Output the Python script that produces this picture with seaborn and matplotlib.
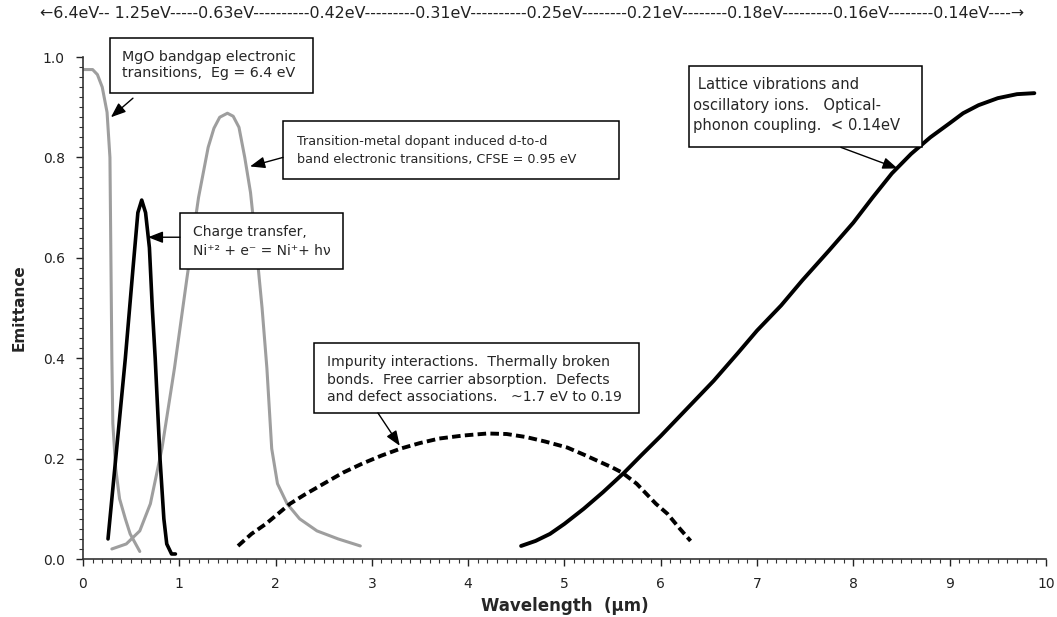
import numpy as np
import pandas as pd
import matplotlib
matplotlib.use('Agg')
import matplotlib.pyplot as plt
from matplotlib.ticker import MultipleLocator, FuncFormatter
from matplotlib.patches import Rectangle
import seaborn as sns

# -----------------------------------------------------------------------------
# Data (wavelength in um, emittance 0-1)
# -----------------------------------------------------------------------------
mgo_x = [0.0, 0.1, 0.15, 0.2, 0.25, 0.28, 0.29, 0.30, 0.31, 0.34, 0.38, 0.44, 0.49, 0.59]
mgo_y = [0.975, 0.975, 0.965, 0.94, 0.89, 0.80, 0.60, 0.40, 0.27, 0.18, 0.12, 0.08, 0.05, 0.015]

ct_x = [0.26, 0.35, 0.44, 0.52, 0.57, 0.61, 0.65, 0.69, 0.72, 0.75, 0.80, 0.84, 0.87, 0.92, 0.96]
ct_y = [0.04, 0.22, 0.40, 0.58, 0.69, 0.715, 0.69, 0.62, 0.50, 0.40, 0.20, 0.08, 0.03, 0.01, 0.01]

dd_x = [0.30, 0.45, 0.59, 0.70, 0.82, 0.95, 1.08, 1.20, 1.30, 1.36, 1.42, 1.50, 1.56, 1.62, 1.68, 1.74,
        1.80, 1.86, 1.91, 1.96, 2.02, 2.12, 2.25, 2.43, 2.65, 2.88]
dd_y = [0.02, 0.03, 0.056, 0.11, 0.22, 0.38, 0.56, 0.72, 0.82, 0.858, 0.88, 0.888, 0.882, 0.86, 0.80, 0.73,
        0.62, 0.50, 0.38, 0.22, 0.15, 0.11, 0.08, 0.056, 0.04, 0.026]

imp_x = [1.61, 1.75, 1.90, 2.15, 2.30, 2.50, 2.70, 2.90, 3.10, 3.30, 3.50, 3.70, 3.95, 4.20,
         4.40, 4.60, 4.80, 5.03, 5.20, 5.35, 5.50, 5.60, 5.75, 5.85, 5.95, 6.07, 6.20, 6.31]
imp_y = [0.026, 0.05, 0.07, 0.11, 0.128, 0.15, 0.172, 0.19, 0.206, 0.22, 0.231, 0.24, 0.246, 0.25,
         0.249, 0.243, 0.234, 0.222, 0.208, 0.195, 0.182, 0.172, 0.15, 0.13, 0.11, 0.09, 0.06, 0.036]

lat_x = [4.55, 4.70, 4.85, 5.00, 5.20, 5.40, 5.62, 5.80, 6.00, 6.25, 6.55, 6.80, 7.00, 7.25,
         7.47, 7.75, 8.00, 8.20, 8.40, 8.60, 8.80, 9.00, 9.14, 9.30, 9.50, 9.70, 9.88]
lat_y = [0.026, 0.036, 0.05, 0.07, 0.10, 0.133, 0.172, 0.207, 0.245, 0.295, 0.355, 0.41, 0.455, 0.505,
         0.555, 0.615, 0.67, 0.72, 0.768, 0.807, 0.84, 0.868, 0.888, 0.904, 0.918, 0.926, 0.928]

ev_scale = ("\u21906.4eV-- 1.25eV-----0.63eV----------0.42eV---------0.31eV----------0.25eV"
            "--------0.21eV--------0.18eV---------0.16eV--------0.14eV----\u2192")

# annotation texts
txt_mgo = 'MgO bandgap electronic\ntransitions,  Eg = 6.4 eV'
txt_dd = 'Transition-metal dopant induced d-to-d\nband electronic transitions, CFSE = 0.95 eV'
txt_ct = 'Charge transfer,\nNi\u207a\u00b2 + e\u207b = Ni\u207a+ h\u03bd'
txt_imp = ('Impurity interactions.  Thermally broken\nbonds.  Free carrier absorption.  Defects\n'
           'and defect associations.   ~1.7 eV to 0.19')
txt_lat = ' Lattice vibrations and\noscillatory ions.   Optical-\nphonon coupling.  < 0.14eV'

# -----------------------------------------------------------------------------
# Figure
# -----------------------------------------------------------------------------
sns.set_style('ticks')
plt.rcParams['font.family'] = ['DejaVu Sans']

fig = plt.figure(figsize=(10.57, 6.17), dpi=100)
ax = fig.add_axes([0.0785, 0.094, 0.911, 0.8136])

gray = '#9e9e9e'
sns.lineplot(x=mgo_x, y=mgo_y, ax=ax, color=gray, lw=2.2, sort=False, estimator=None)
sns.lineplot(x=dd_x, y=dd_y, ax=ax, color=gray, lw=2.2, sort=False, estimator=None)
sns.lineplot(x=ct_x, y=ct_y, ax=ax, color='black', lw=2.6, sort=False, estimator=None)
sns.lineplot(x=imp_x, y=imp_y, ax=ax, color='black', lw=2.8, sort=False, estimator=None,
             linestyle=(0, (2.2, 1.1)))
sns.lineplot(x=lat_x, y=lat_y, ax=ax, color='black', lw=2.8, sort=False, estimator=None)

ax.set_xlim(0, 10)
ax.set_ylim(0, 1.0)
ax.xaxis.set_major_locator(MultipleLocator(1))
ax.xaxis.set_minor_locator(MultipleLocator(0.1))
ax.yaxis.set_major_locator(MultipleLocator(0.2))
ax.yaxis.set_minor_locator(MultipleLocator(0.02))
ax.xaxis.set_major_formatter(FuncFormatter(lambda v, p: f'{v:.0f}'))
ax.yaxis.set_major_formatter(FuncFormatter(lambda v, p: f'{v:.1f}'))
ax.tick_params(which='major', length=5, width=1, labelsize=10, colors='#222222', pad=8)
ax.tick_params(which='minor', length=3, width=0.8, colors='#333333')
sns.despine(ax=ax)
for s in ['left', 'bottom']:
    ax.spines[s].set_color('#333333')
    ax.spines[s].set_linewidth(1.2)

ax.set_xlabel('Wavelength  (\u03bcm)', fontsize=12, fontweight='bold', labelpad=4)
ax.set_ylabel('Emittance', fontsize=11, fontweight='bold', labelpad=12)

fig.text(0.5035, 0.978, ev_scale, ha='center', va='center', fontsize=11.4,
         family=['Liberation Sans Narrow', 'DejaVu Sans'], color='#222222')


def note(txt, box, text_xy, start, tip, size, spacing):
    # box = (x0, y0, x1, y1) in data units
    x0, y0, x1, y1 = box
    ax.add_patch(Rectangle((x0, y0), x1 - x0, y1 - y0, fc='white', ec='black',
                           lw=1.1, clip_on=False, zorder=4))
    ax.text(text_xy[0], text_xy[1], txt, ha='left', va='center', fontsize=size,
            linespacing=spacing, zorder=5, clip_on=False)
    ax.annotate('', xy=tip, xytext=start, zorder=5, annotation_clip=False,
                arrowprops=dict(arrowstyle='-|>,head_length=0.9,head_width=0.35',
                                color='black', lw=1.0, shrinkA=0, shrinkB=0))


note(txt_mgo, (0.280, 0.928, 2.388, 1.038), (0.405, 0.984), (0.519, 0.918), (0.29, 0.88), 10.3, 1.15)
note(txt_dd, (2.077, 0.756, 5.566, 0.872), (2.222, 0.814), (2.077, 0.800), (1.735, 0.782), 9.2, 1.5)
note(txt_ct, (1.007, 0.577, 2.700, 0.689), (1.142, 0.633), (1.007, 0.641), (0.675, 0.641), 10.0, 1.45)
note(txt_imp, (2.399, 0.291, 5.774, 0.431), (2.534, 0.357), (3.063, 0.291), (3.29, 0.2255), 10.1, 1.3)
note(txt_lat, (6.293, 0.820, 8.712, 0.982), (6.335, 0.904), (7.871, 0.820), (8.46, 0.778), 10.6, 1.45)

fig.savefig('out.png', dpi=100)
